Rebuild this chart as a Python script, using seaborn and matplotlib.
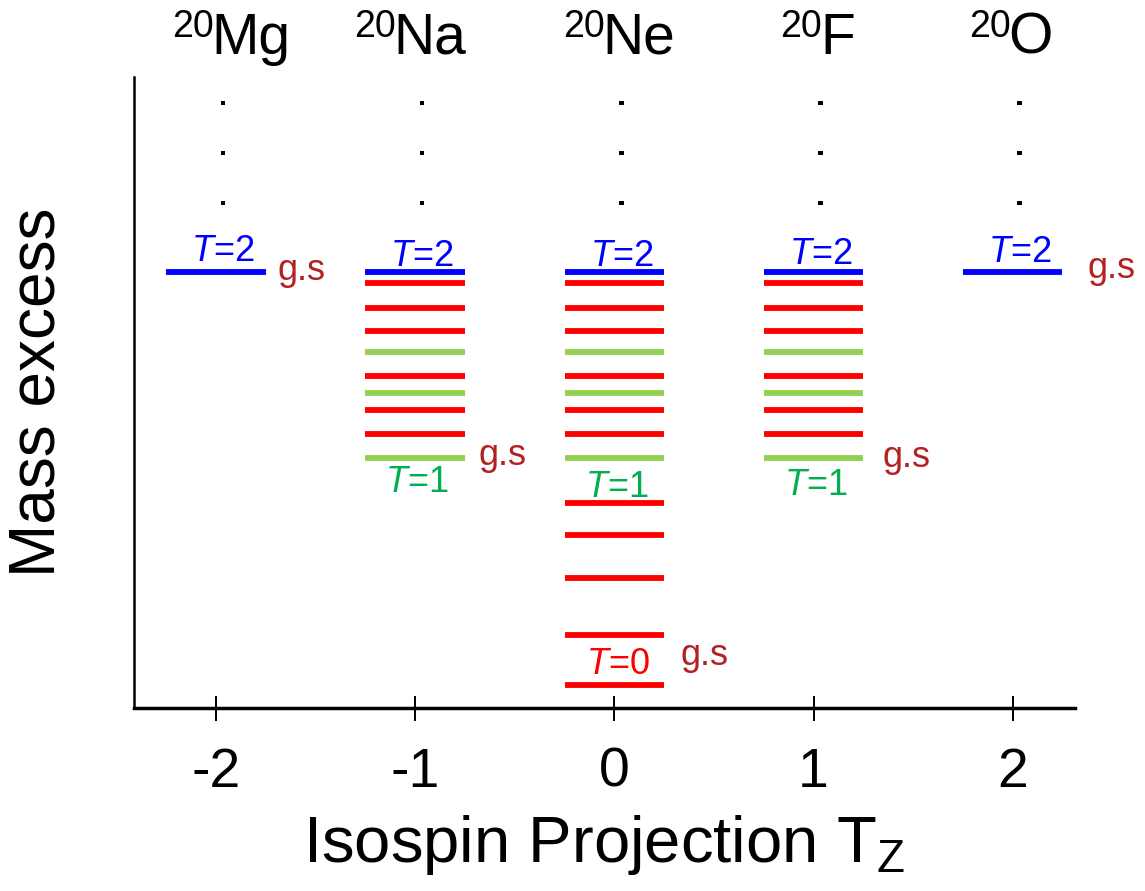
import numpy as np
import pandas as pd
import matplotlib
matplotlib.use("Agg")
import matplotlib.pyplot as plt
import seaborn as sns

# ---------------- data ----------------
tz_values = [-2, -1, 0, 1, 2]
nuclide_mass = ["20", "20", "20", "20", "20"]
nuclide_symbols = ["Mg", "Na", "Ne", "F", "O"]

# level energies (schematic mass excess units) and their isospin class
mg_levels = [43.6]
mg_T = ["T2"]
na_levels = [43.6, 42.5, 40.0, 37.7, 35.6, 33.2, 31.5, 29.8, 27.4, 25.0]
na_T = ["T2", "T0", "T0", "T0", "T1", "T0", "T1", "T0", "T0", "T1"]
ne_levels = [43.6, 42.5, 40.0, 37.7, 35.6, 33.2, 31.5, 29.8, 27.4, 25.0,
             20.5, 17.3, 13.0, 7.3, 2.3]
ne_T = ["T2", "T0", "T0", "T0", "T1", "T0", "T1", "T0", "T0", "T1",
        "T0", "T0", "T0", "T0", "T0"]
f_levels = [43.6, 42.5, 40.0, 37.7, 35.6, 33.2, 31.5, 29.8, 27.4, 25.0]
f_T = ["T2", "T0", "T0", "T0", "T1", "T0", "T1", "T0", "T0", "T1"]
o_levels = [43.6]
o_T = ["T2"]

dot_levels = [60.5, 55.5, 50.5]
x_tick_labels = ["-2", "-1", "0", "1", "2"]

# ---------------- style ----------------
sns.set_theme(style="white")
plt.rcParams["font.family"] = ["Liberation Sans", "DejaVu Sans"]
plt.rcParams["mathtext.fontset"] = "custom"
plt.rcParams["mathtext.rm"] = "Liberation Sans"
plt.rcParams["mathtext.it"] = "Liberation Sans:italic"
plt.rcParams["lines.solid_capstyle"] = "butt"
plt.rcParams["text.color"] = "black"
plt.rcParams["axes.labelcolor"] = "black"
plt.rcParams["xtick.color"] = "black"
plt.rcParams["xtick.labelcolor"] = "black"

BLUE = "#0000FF"
RED = "#FF0000"
LGREEN = "#92D050"
TGREEN = "#00B050"
GS = "#B22222"
palette = {"T0": RED, "T1": LGREEN, "T2": BLUE}

half_w = 0.25
rows = []
lid = 0
for tz, levs, ts in zip(tz_values,
                        [mg_levels, na_levels, ne_levels, f_levels, o_levels],
                        [mg_T, na_T, ne_T, f_T, o_T]):
    for e, t in zip(levs, ts):
        rows.append({"x": tz - half_w, "E": e, "T": t, "id": lid})
        rows.append({"x": tz + half_w, "E": e, "T": t, "id": lid})
        lid += 1
df = pd.DataFrame(rows)

dots = pd.DataFrame([{"x": tz + 0.035, "E": d} for tz in tz_values for d in dot_levels])

fig = plt.figure(figsize=(11.45, 8.91), dpi=100)
ax = fig.add_axes([0.117, 0.2054, 0.9389 - 0.117, 0.9136 - 0.2054])

# draw T2 last so blue on top
order = ["T0", "T1", "T2"]
for t in order:
    sub = df[df["T"] == t]
    sns.lineplot(data=sub, x="x", y="E", units="id", estimator=None,
                 color=palette[t], linewidth=4.2, ax=ax, legend=False, sort=False)

sns.scatterplot(data=dots, x="x", y="E", marker="s", s=10, color="black",
                edgecolor="none", ax=ax, legend=False)

ax.set_xlim(-2.412, 2.313)
ax.set_ylim(0, 63.1)
ax.set_xticks(tz_values)
ax.set_xticklabels(x_tick_labels)
ax.set_yticks([])
ax.tick_params(axis="x", direction="inout", length=18, width=1.4,
               color="black", labelcolor="black", labelsize=40, pad=19, bottom=True)
for s in ["top", "right"]:
    ax.spines[s].set_visible(False)
ax.spines["bottom"].set_linewidth(2.5)
ax.spines["left"].set_linewidth(1.8)
ax.spines["bottom"].set_color("black")
ax.spines["left"].set_color("black")

ax.set_xlabel(r"Isospin Projection T$_\mathregular{Z}$", fontsize=47, labelpad=10,
              color="black")
ax.set_ylabel("Mass excess", fontsize=46, labelpad=48, color="black")

# nuclide labels
split_x = [-2.010, -1.097, -0.049, 1.044, 1.990]
for sx, m, sym in zip(split_x, nuclide_mass, nuclide_symbols):
    ax.text(sx, 67.1, m, fontsize=27, ha="right", va="baseline", clip_on=False,
            color="black")
    ax.text(sx - 0.012, 65.4, sym, fontsize=41, ha="left", va="baseline", clip_on=False,
            color="black")

# T labels
t2_y = [44.7, 44.2, 44.2, 44.4, 44.6]
for tz, yy in zip(tz_values, t2_y):
    ax.text(tz + 0.035, yy, r"$T$=2", color=BLUE, fontsize=26, ha="center", va="baseline")
for tz, yy in zip([-1, 0, 1], [21.6, 21.1, 21.3]):
    ax.text(tz + 0.01, yy, r"$T$=1", color=TGREEN, fontsize=26, ha="center", va="baseline")
ax.text(0.02, 3.4, r"$T$=0", color=RED, fontsize=26, ha="center", va="baseline")

# ground-state labels
gs_x = [-1.689, -0.682, 0.332, 1.346, 2.378]
gs_y = [42.8, 24.3, 4.3, 24.1, 43.0]
for gx, gy in zip(gs_x, gs_y):
    ax.text(gx, gy, "g.s", color=GS, fontsize=26, ha="left", va="baseline", clip_on=False)

fig.savefig("out.png", dpi=100)
